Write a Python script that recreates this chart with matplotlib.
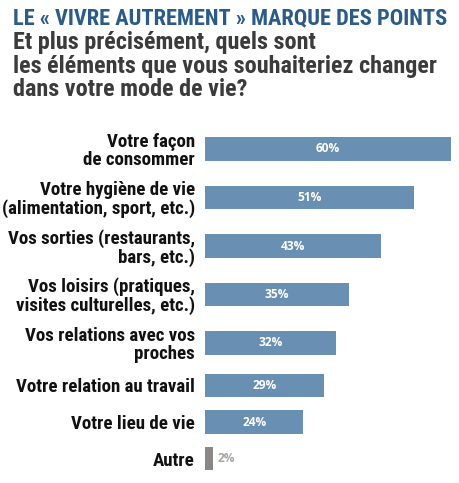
import matplotlib
matplotlib.use("Agg")
import matplotlib.pyplot as plt
from matplotlib import font_manager

categories = [
    "Votre façon\nde consommer",
    "Votre hygiène de vie\n(alimentation, sport, etc.)",
    "Vos sorties (restaurants,\nbars, etc.)",
    "Vos loisirs (pratiques,\nvisites culturelles, etc.)",
    "Vos relations avec vos\nproches",
    "Votre relation au travail",
    "Votre lieu de vie",
    "Autre",
]
values = [60, 51, 43, 35, 32, 29, 24, 2]
value_labels = ["60%", "51%", "43%", "35%", "32%", "29%", "24%", "2%"]

title = "LE « VIVRE AUTREMENT » MARQUE DES POINTS"
subtitle = ["Et plus précisément, quels sont",
            "les éléments que vous souhaiteriez changer",
            "dans votre mode de vie?"]

names = {f.name for f in font_manager.fontManager.ttflist}
fam = "Roboto"
for cand in ["Roboto Condensed", "Liberation Sans Narrow", "Open Sans Condensed", "Roboto"]:
    if cand in names:
        fam = cand
        break

W, H = 460, 483
fig = plt.figure(figsize=(W / 100, H / 100), dpi=100)
fig.patch.set_facecolor("white")

BLUE = "#6990b2"
GREY = "#8c8787"

# vertical positions from label line counts (pixel units)
lines = [c.count("\n") + 1 for c in categories]
pos = [0.0]
for a, b in zip(lines[:-1], lines[1:]):
    pos.append(pos[-1] + 24.5 + 6 * (a + b))

c0 = 149
ax_top, ax_bot = 128, 480
ax = fig.add_axes([205 / W, 1 - ax_bot / H, 246 / W, (ax_bot - ax_top) / H])
ax.set_xlim(0, 60)
ax.set_ylim(pos[0] + (ax_bot - c0), pos[0] - (c0 - ax_top))
ax.axis("off")

colors = [BLUE] * (len(values) - 1) + [GREY]
ax.barh(pos, values, height=23.5, color=colors, edgecolor="none")

for y, v, lab, cat in zip(pos, values, value_labels, categories):
    ax.annotate(cat, xy=(0, y), xycoords=("data", "data"), xytext=(-10, -2),
                textcoords="offset pixels", ha="right", va="center",
                fontsize=13.6, fontweight="bold", color="#111111",
                family=fam, linespacing=1.0, annotation_clip=False)
    if v >= 10:
        ax.text(v / 2, y, lab, ha="center", va="center", fontsize=8.6,
                fontweight="bold", color="white", family="Open Sans")
    else:
        ax.annotate(lab, xy=(v, y), xytext=(4, 0), textcoords="offset pixels",
                    ha="left", va="center", fontsize=8.6, fontweight="bold",
                    color="#a8a4a4", family="Open Sans")

fig.text(13 / W, 1 - 18 / H, title, ha="left", va="center", fontsize=16.1,
         fontweight="bold", color="#2b5b87", family=fam)
for i, s in enumerate(subtitle):
    fig.text(13 / W, 1 - (43 + 23.5 * i) / H, s, ha="left", va="center",
             fontsize=17.4, fontweight="bold", color="#3b3b3b", family=fam)

fig.savefig("out.png", dpi=100, facecolor="white")
